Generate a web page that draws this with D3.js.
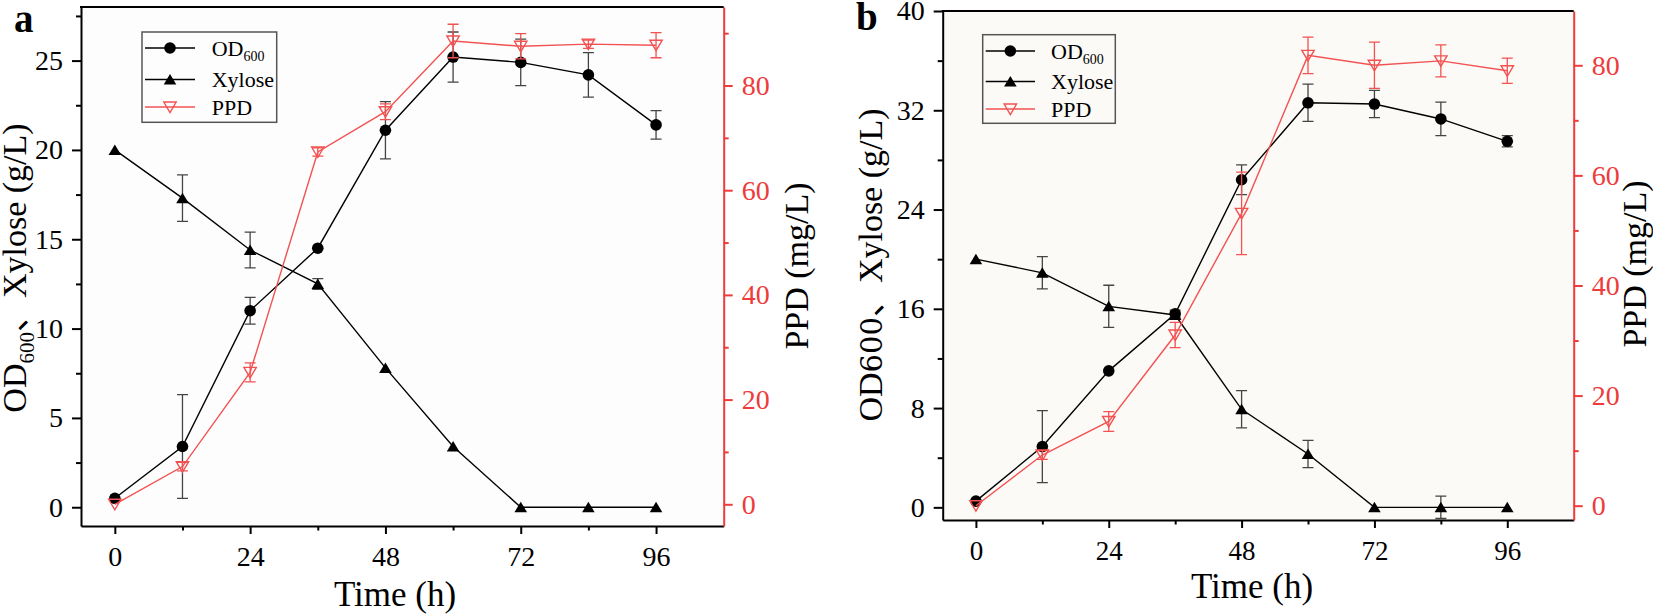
<!DOCTYPE html>
<meta charset="utf-8">
<script src="https://d3js.org/d3.v7.min.js"></script>
<style>
  body { margin: 0; background: #fff; }
</style>

<svg id="chart" width="1653" height="615"></svg>

<script>

// sampling times (h)
const times = [0, 12, 24, 36, 48, 60, 72, 84, 96];

// panel a
const odA = [0.5, 3.4, 11.0, 14.5, 21.1, 25.2, 24.9, 24.2, 21.4];
const odErrA = [0, 2.9, 0.75, 0, 1.6, 1.4, 1.3, 1.25, 0.8];
const xylA = [20, 17.3, 14.4, 12.5, 7.8, 3.4, 0, 0, 0];
const xylErrA = [0, 1.3, 1.0, 0.3, 0, 0, 0, 0, 0];
const ppdA = [0, 7.2, 25.2, 67.3, 75.0, 88.5, 87.5, 87.9, 87.7];
const ppdErrA = [0, 0.8, 1.8, 0.8, 1.5, 3.2, 2.4, 0.8, 2.4];

// panel b
const odB = [0.5, 4.9, 11.0, 15.6, 26.4, 32.6, 32.5, 31.3, 29.5];
const odErrB = [0, 2.9, 0, 0.3, 1.2, 1.5, 1.1, 1.35, 0.45];
const xylB = [20, 18.9, 16.2, 15.5, 7.9, 4.3, 0, 0, 0];
const xylErrB = [0, 1.3, 1.7, 0, 1.5, 1.1, 0, 0.9, 0];
const ppdB = [0, 9.2, 15.3, 31.0, 53.1, 81.8, 80.0, 80.8, 79.0];
const ppdErrB = [0, 0.8, 1.8, 2.3, 7.5, 3.3, 4.2, 2.9, 2.3];

// ticks
const xTicks = [0, 24, 48, 72, 96];
const xMinor = [12, 36, 60, 84];
const leftTicksA = [0, 5, 10, 15, 20, 25];
const leftMinorA = [2.5, 7.5, 12.5, 17.5, 22.5, 27.5];
const leftTicksB = [0, 8, 16, 24, 32, 40];
const leftMinorB = [4, 12, 20, 28, 36];
const ppdTicks = [0, 20, 40, 60, 80];
const ppdMinorA = [10, 30, 50, 70, 90];
const ppdMinorB = [10, 30, 50, 70];

const svg = d3.select("#chart");

const serif = '"Liberation Serif", "Times New Roman", "Noto Sans CJK SC", serif';
const red = "#ee3b3b";
const ppdRed = "#f25252";

const triUp = "M0,-5.5L6.3,5L-6.3,5Z";
const triDown = "M-6.2,-5L6.2,-5L0,5.5Z";

function styleAxis(ax, color) {
  ax.attr("font-family", serif).attr("font-size", 28);
  ax.select(".domain").attr("stroke", color).attr("stroke-width", 2);
  ax.selectAll(".tick line").attr("stroke", color).attr("stroke-width", 2);
  ax.selectAll(".tick text").attr("fill", color);
}

function drawPanel(p) {
  const g = svg.append("g");

  const x = d3.scaleLinear().domain([-6, 108]).range([p.left, p.right]);
  const yL = d3.scaleLinear().domain(p.leftDomain).range([p.bottom, p.top]);
  const yR = d3.scaleLinear().domain(p.rightDomain).range([p.bottom, p.top]);

  // plot background
  g.append("rect")
    .attr("x", p.left).attr("y", p.top)
    .attr("width", p.right - p.left).attr("height", p.bottom - p.top)
    .attr("fill", p.bg);

  // series: error bars, line, markers
  function series(vals, errs, y, color, errColor, marker) {
    const s = g.append("g");
    const cap = 5.5;
    times.forEach(function(t, i) {
      if (!errs[i]) return;
      const cx = x(t), y1 = y(vals[i] + errs[i]), y2 = y(vals[i] - errs[i]);
      s.append("path")
        .attr("d", `M${cx},${y1}V${y2}M${cx - cap},${y1}H${cx + cap}M${cx - cap},${y2}H${cx + cap}`)
        .attr("stroke", errColor).attr("stroke-width", 1.3).attr("fill", "none");
    });
    s.append("path")
      .datum(times)
      .attr("d", d3.line().x(d => x(d)).y((d, i) => y(vals[i])))
      .attr("stroke", color).attr("stroke-width", 1.4).attr("fill", "none");
    const m = s.selectAll(".mk").data(times).enter().append("g")
      .attr("transform", (d, i) => `translate(${x(d)},${y(vals[i])})`);
    marker(m);
  }

  const dot = m => m.append("circle").attr("r", 5.8).attr("fill", "#000");
  const up = m => m.append("path").attr("d", triUp).attr("fill", "#000");
  const down = m => m.append("path").attr("d", triDown)
    .attr("fill", "none").attr("stroke", ppdRed).attr("stroke-width", 1.4);

  series(p.od, p.odErr, yL, "#000", "#444", dot);
  series(p.xyl, p.xylErr, yL, "#000", "#444", up);
  series(p.ppd, p.ppdErr, yR, ppdRed, ppdRed, down);

  // axes
  const gx = g.append("g").attr("transform", `translate(0,${p.bottom})`)
    .call(d3.axisBottom(x).tickValues(xTicks).tickSize(8).tickSizeOuter(0));
  styleAxis(gx, "#000");
  gx.selectAll(".tick text").attr("y", 40).attr("dy", null).attr("font-size", p.xFont);
  const gxm = g.append("g").attr("transform", `translate(0,${p.bottom})`)
    .call(d3.axisBottom(x).tickValues(xMinor).tickSize(4.5).tickFormat(""));
  gxm.select(".domain").remove();
  styleAxis(gxm, "#000");

  const gl = g.append("g").attr("transform", `translate(${p.left},0)`)
    .call(d3.axisLeft(yL).tickValues(p.leftTicks).tickSize(9).tickPadding(9).tickSizeOuter(0));
  styleAxis(gl, "#000");
  const glm = g.append("g").attr("transform", `translate(${p.left},0)`)
    .call(d3.axisLeft(yL).tickValues(p.leftMinor).tickSize(5).tickFormat(""));
  glm.select(".domain").remove();
  styleAxis(glm, "#000");

  const gr = g.append("g").attr("transform", `translate(${p.right},0)`)
    .call(d3.axisRight(yR).tickValues(ppdTicks).tickSize(9).tickPadding(9).tickSizeOuter(0));
  styleAxis(gr, red);
  const grm = g.append("g").attr("transform", `translate(${p.right},0)`)
    .call(d3.axisRight(yR).tickValues(p.rightMinor).tickSize(5).tickFormat(""));
  grm.select(".domain").remove();
  styleAxis(grm, red);

  // top frame line
  g.append("line")
    .attr("x1", p.left - 1).attr("x2", p.right)
    .attr("y1", p.top).attr("y2", p.top)
    .attr("stroke", "#000").attr("stroke-width", 2);

  // legend
  const lg = g.append("g");
  lg.append("rect")
    .attr("x", p.legend.x0).attr("y", p.legend.y0)
    .attr("width", p.legend.x1 - p.legend.x0).attr("height", p.legend.y1 - p.legend.y0)
    .attr("fill", p.bg).attr("stroke", "#555").attr("stroke-width", 1.5);
  const items = [
    {color: "#000", mark: dot},
    {color: "#000", mark: up},
    {color: ppdRed, mark: down}
  ];
  items.forEach(function(it, i) {
    const ry = p.legend.rows[i];
    lg.append("line")
      .attr("x1", p.legend.lx0).attr("x2", p.legend.lx1)
      .attr("y1", ry).attr("y2", ry)
      .attr("stroke", it.color).attr("stroke-width", 1.4);
    it.mark(lg.append("g").attr("transform", `translate(${(p.legend.lx0 + p.legend.lx1) / 2},${ry})`));
  });
  const lt = (i) => lg.append("text")
    .attr("x", p.legend.tx).attr("y", p.legend.rows[i] + 7.5)
    .attr("font-family", serif).attr("font-size", 22).attr("fill", "#000");
  const t0 = lt(0);
  t0.append("tspan").text("OD");
  t0.append("tspan").attr("font-size", 14).attr("dy", 5).text("600");
  lt(1).text("Xylose");
  lt(2).text("PPD");

  // axis titles
  const left = g.append("text")
    .attr("transform", `translate(${p.leftTitle[0]},${p.leftTitle[1]}) rotate(-90)`)
    .attr("text-anchor", "middle")
    .attr("font-family", serif).attr("font-size", 34).attr("fill", "#000");
  left.append("tspan").text("OD");
  if (p.subscript) {
    left.append("tspan").attr("font-size", 21).attr("dy", 8).text("600");
    left.append("tspan").attr("dy", -8).text("、Xylose (g/L)");
  } else {
    left.append("tspan").attr("font-family", '"DejaVu Serif", serif').attr("font-size", 29).text("600");
    left.append("tspan").text("、Xylose (g/L)");
  }

  g.append("text")
    .attr("transform", `translate(${p.rightTitle[0]},${p.rightTitle[1]}) rotate(-90)`)
    .attr("text-anchor", "middle")
    .attr("font-family", serif).attr("font-size", 34).attr("fill", "#000")
    .text("PPD (mg/L)");

  g.append("text")
    .attr("x", p.timeTitle[0]).attr("y", p.timeTitle[1])
    .attr("text-anchor", "middle")
    .attr("font-family", serif).attr("font-size", 35).attr("fill", "#000")
    .text("Time (h)");

  // panel letter
  g.append("text")
    .attr("x", p.letter[0]).attr("y", p.letter[1])
    .attr("font-family", serif).attr("font-size", 39).attr("font-weight", "bold")
    .attr("fill", "#000")
    .text(p.name);
}

drawPanel({
  name: "a",
  left: 81, right: 723.7, top: 7, bottom: 526,
  leftDomain: [-1.05, 28], rightDomain: [-4.15, 95],
  leftTicks: leftTicksA, leftMinor: leftMinorA, rightMinor: ppdMinorA,
  od: odA, odErr: odErrA, xyl: xylA, xylErr: xylErrA, ppd: ppdA, ppdErr: ppdErrA,
  bg: "#fefdfd", xFont: 28, subscript: true,
  legend: {x0: 142, y0: 32, x1: 276.7, y1: 122.3, lx0: 145, lx1: 195, tx: 211.7, rows: [48, 79.5, 107]},
  leftTitle: [26, 268], rightTitle: [808, 266], timeTitle: [395, 606], letter: [14, 31.7]
});

drawPanel({
  name: "b",
  left: 942.7, right: 1573.7, top: 11, bottom: 520,
  leftDomain: [-1.02, 40], rightDomain: [-2.6, 89.86],
  leftTicks: leftTicksB, leftMinor: leftMinorB, rightMinor: ppdMinorB,
  od: odB, odErr: odErrB, xyl: xylB, xylErr: xylErrB, ppd: ppdB, ppdErr: ppdErrB,
  bg: "#fcfaf7", xFont: 27, subscript: false,
  legend: {x0: 982.7, y0: 34.7, x1: 1115.3, y1: 123.3, lx0: 985.7, lx1: 1035, tx: 1051, rows: [51, 81.5, 109]},
  leftTitle: [882, 265], rightTitle: [1646, 264], timeTitle: [1252, 598], letter: [856, 30]
});

</script>
